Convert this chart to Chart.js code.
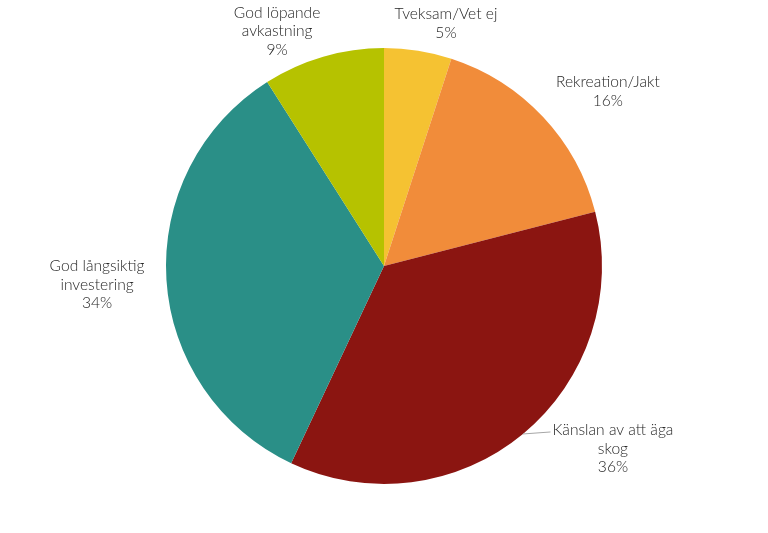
<!DOCTYPE html>
<html>
<head>
<meta charset="utf-8">
<script src="https://cdn.jsdelivr.net/npm/chart.js@4"></script>
<style>
  html, body { margin: 0; padding: 0; background: #fff; }
  #wrap { width: 768px; height: 533px; position: relative; }
</style>
</head>
<body>
<div id="wrap"><canvas id="myChart"></canvas></div>
<script>
// Data
const labels = [
  ['Tveksam/Vet ej'],
  ['Rekreation/Jakt'],
  ['Känslan av att äga', 'skog'],
  ['God långsiktig', 'investering'],
  ['God löpande', 'avkastning']
];
const values = [5, 16, 36, 34, 9];
const colors = ['#F5C232', '#F18C3A', '#8B1511', '#2A8F87', '#B6C200'];

// label placement tweaks (px) and which labels get a leader line
const labelNudge = [[17, 8], [14, -1], [40, -20], [-4, 2], [-29, 18]];
const leaderLine = [false, false, true, false, false];

const outsideLabels = {
  id: 'outsideLabels',
  afterDatasetsDraw(chart) {
    const c = chart.ctx;
    const meta = chart.getDatasetMeta(0);
    const total = values.reduce((a, b) => a + b, 0);
    c.save();
    c.font = '300 15.6px Lato';
    c.fillStyle = '#262626';
    c.textAlign = 'center';
    c.textBaseline = 'middle';
    const lh = 18.7;
    meta.data.forEach((arc, i) => {
      const mid = (arc.startAngle + arc.endAngle) / 2;
      const cx = arc.x, cy = arc.y, R = arc.outerRadius;
      const lines = labels[i].concat([Math.round(values[i] / total * 100) + '%']);
      const w = Math.max(...lines.map(t => c.measureText(t).width));
      const h = lines.length * lh - 2;
      const dx = Math.cos(mid), dy = Math.sin(mid);
      let tx = cx + dx * (R + 18) + dx * w / 2 + labelNudge[i][0];
      let ty = cy + dy * (R + 18) + dy * h / 2 + labelNudge[i][1];
      const top = ty - h / 2 + lh / 2 - 1;
      if (leaderLine[i]) {
        const lw = c.measureText(lines[0]).width;
        c.strokeStyle = '#a6a6a6';
        c.lineWidth = 1;
        c.beginPath();
        c.moveTo(cx + dx * R, cy + dy * R);
        c.lineTo(tx - lw / 2 - 2, top + 2);
        c.stroke();
      }
      lines.forEach((t, k) => c.fillText(t, tx, top + k * lh));
    });
    c.restore();
  }
};

new Chart(document.getElementById('myChart'), {
  type: 'pie',
  data: {
    labels: labels.map(l => l.join(' ')),
    datasets: [{
      data: values,
      backgroundColor: colors,
      borderWidth: 0
    }]
  },
  options: {
    responsive: true,
    maintainAspectRatio: false,
    animation: false,
    layout: { padding: { top: 48, bottom: 49, left: 0, right: 0 } },
    plugins: {
      legend: { display: false },
      tooltip: { enabled: false }
    }
  },
  plugins: [outsideLabels]
});
</script>
</body>
</html>
